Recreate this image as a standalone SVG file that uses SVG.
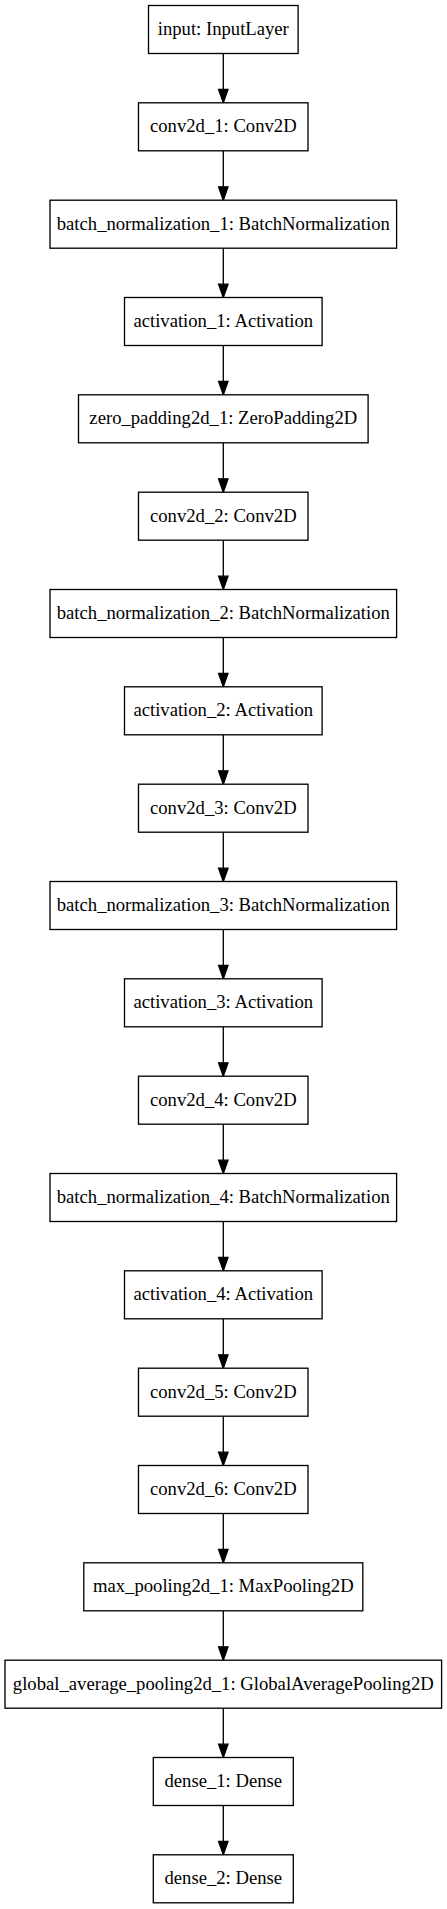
<svg xmlns="http://www.w3.org/2000/svg" width="447" height="1909" viewBox="0 0 447 1909">
<style>
.n rect{fill:#fff;stroke:#000;stroke-width:1.33}
.n text{font-family:"Liberation Serif","Times New Roman",serif;font-size:18.67px;text-anchor:middle;fill:#000}
.e line{stroke:#000;stroke-width:1.33}
.e polygon{fill:#000;stroke:#000;stroke-width:1.33}
</style>
<rect width="447" height="1909" fill="#fff"/>
<g class="e" id="edges">
<line x1="223.3" y1="53.5" x2="223.3" y2="89.5"/><polygon points="223.3,102.8 218.6,89.5 228,89.5"/>
<line x1="223.3" y1="150.8" x2="223.3" y2="186.8"/><polygon points="223.3,200.2 218.6,186.8 228,186.8"/>
<line x1="223.3" y1="248.2" x2="223.3" y2="284.2"/><polygon points="223.3,297.5 218.6,284.2 228,284.2"/>
<line x1="223.3" y1="345.5" x2="223.3" y2="381.5"/><polygon points="223.3,394.8 218.6,381.5 228,381.5"/>
<line x1="223.3" y1="442.8" x2="223.3" y2="478.8"/><polygon points="223.3,492.2 218.6,478.8 228,478.8"/>
<line x1="223.3" y1="540.2" x2="223.3" y2="576.2"/><polygon points="223.3,589.5 218.6,576.2 228,576.2"/>
<line x1="223.3" y1="637.5" x2="223.3" y2="673.5"/><polygon points="223.3,686.8 218.6,673.5 228,673.5"/>
<line x1="223.3" y1="734.8" x2="223.3" y2="770.8"/><polygon points="223.3,784.2 218.6,770.8 228,770.8"/>
<line x1="223.3" y1="832.2" x2="223.3" y2="868.2"/><polygon points="223.3,881.5 218.6,868.2 228,868.2"/>
<line x1="223.3" y1="929.5" x2="223.3" y2="965.5"/><polygon points="223.3,978.8 218.6,965.5 228,965.5"/>
<line x1="223.3" y1="1026.8" x2="223.3" y2="1062.8"/><polygon points="223.3,1076.2 218.6,1062.8 228,1062.8"/>
<line x1="223.3" y1="1124.2" x2="223.3" y2="1160.2"/><polygon points="223.3,1173.5 218.6,1160.2 228,1160.2"/>
<line x1="223.3" y1="1221.5" x2="223.3" y2="1257.5"/><polygon points="223.3,1270.8 218.6,1257.5 228,1257.5"/>
<line x1="223.3" y1="1318.8" x2="223.3" y2="1354.8"/><polygon points="223.3,1368.2 218.6,1354.8 228,1354.8"/>
<line x1="223.3" y1="1416.2" x2="223.3" y2="1452.2"/><polygon points="223.3,1465.5 218.6,1452.2 228,1452.2"/>
<line x1="223.3" y1="1513.5" x2="223.3" y2="1549.5"/><polygon points="223.3,1562.8 218.6,1549.5 228,1549.5"/>
<line x1="223.3" y1="1610.8" x2="223.3" y2="1646.8"/><polygon points="223.3,1660.2 218.6,1646.8 228,1646.8"/>
<line x1="223.3" y1="1708.2" x2="223.3" y2="1744.2"/><polygon points="223.3,1757.5 218.6,1744.2 228,1744.2"/>
<line x1="223.3" y1="1805.5" x2="223.3" y2="1841.5"/><polygon points="223.3,1854.8 218.6,1841.5 228,1841.5"/>
</g>
<g class="n" id="input"><rect x="148.5" y="5.5" width="149.6" height="48"/><text x="223.3" y="35">input: InputLayer</text></g>
<g class="n" id="conv2d_1"><rect x="138.5" y="102.8" width="169.5" height="48"/><text x="223.3" y="132.3">conv2d_1: Conv2D</text></g>
<g class="n" id="batch_normalization_1"><rect x="50" y="200.2" width="346.6" height="48"/><text x="223.3" y="229.7">batch_normalization_1: BatchNormalization</text></g>
<g class="n" id="activation_1"><rect x="124.5" y="297.5" width="197.6" height="48"/><text x="223.3" y="327">activation_1: Activation</text></g>
<g class="n" id="zero_padding2d_1"><rect x="78.5" y="394.8" width="289.6" height="48"/><text x="223.3" y="424.3">zero_padding2d_1: ZeroPadding2D</text></g>
<g class="n" id="conv2d_2"><rect x="138.5" y="492.2" width="169.5" height="48"/><text x="223.3" y="521.7">conv2d_2: Conv2D</text></g>
<g class="n" id="batch_normalization_2"><rect x="50" y="589.5" width="346.6" height="48"/><text x="223.3" y="619">batch_normalization_2: BatchNormalization</text></g>
<g class="n" id="activation_2"><rect x="124.5" y="686.8" width="197.6" height="48"/><text x="223.3" y="716.3">activation_2: Activation</text></g>
<g class="n" id="conv2d_3"><rect x="138.5" y="784.2" width="169.5" height="48"/><text x="223.3" y="813.7">conv2d_3: Conv2D</text></g>
<g class="n" id="batch_normalization_3"><rect x="50" y="881.5" width="346.6" height="48"/><text x="223.3" y="911">batch_normalization_3: BatchNormalization</text></g>
<g class="n" id="activation_3"><rect x="124.5" y="978.8" width="197.6" height="48"/><text x="223.3" y="1008.3">activation_3: Activation</text></g>
<g class="n" id="conv2d_4"><rect x="138.5" y="1076.2" width="169.5" height="48"/><text x="223.3" y="1105.7">conv2d_4: Conv2D</text></g>
<g class="n" id="batch_normalization_4"><rect x="50" y="1173.5" width="346.6" height="48"/><text x="223.3" y="1203">batch_normalization_4: BatchNormalization</text></g>
<g class="n" id="activation_4"><rect x="124.5" y="1270.8" width="197.6" height="48"/><text x="223.3" y="1300.3">activation_4: Activation</text></g>
<g class="n" id="conv2d_5"><rect x="138.5" y="1368.2" width="169.5" height="48"/><text x="223.3" y="1397.7">conv2d_5: Conv2D</text></g>
<g class="n" id="conv2d_6"><rect x="138.5" y="1465.5" width="169.5" height="48"/><text x="223.3" y="1495">conv2d_6: Conv2D</text></g>
<g class="n" id="max_pooling2d_1"><rect x="83.8" y="1562.8" width="279" height="48"/><text x="223.3" y="1592.3">max_pooling2d_1: MaxPooling2D</text></g>
<g class="n" id="global_average_pooling2d_1"><rect x="5" y="1660.2" width="436.6" height="48"/><text x="223.3" y="1689.7">global_average_pooling2d_1: GlobalAveragePooling2D</text></g>
<g class="n" id="dense_1"><rect x="153.3" y="1757.5" width="140" height="48"/><text x="223.3" y="1787">dense_1: Dense</text></g>
<g class="n" id="dense_2"><rect x="153.3" y="1854.8" width="140" height="48"/><text x="223.3" y="1884.3">dense_2: Dense</text></g>
</svg>
